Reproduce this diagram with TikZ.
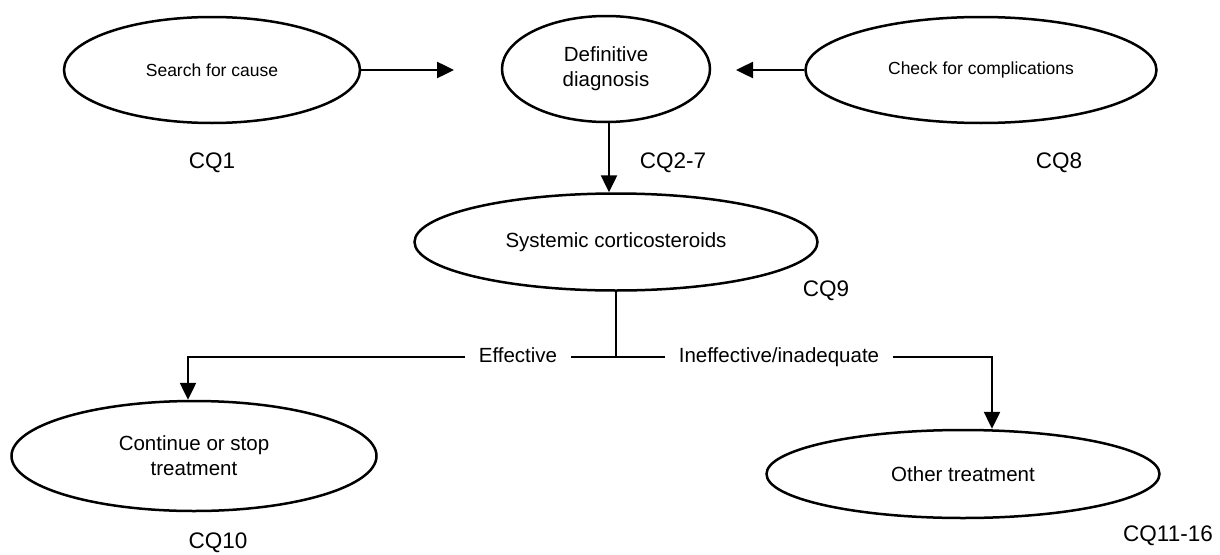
\documentclass[tikz,border=0pt]{standalone}
\usepackage{fontspec}
\setmainfont{Liberation Sans}
\usetikzlibrary{shapes.geometric,arrows.meta}

\begin{document}
\begin{tikzpicture}[x=1pt, y=-1pt]
    % Define styles
    \tikzset{
        stage/.style={
            draw,
            ellipse,
            line width=2.5pt,
            inner sep=0pt,
            align=center,
            font=\fontsize{20.5}{25}\selectfont
        },
        smalltext/.style={
            font=\fontsize{17.5}{21}\selectfont
        },
        cqlabel/.style={
            font=\fontsize{22.5}{26}\selectfont
        },
        flow/.style={
            line width=2.5pt,
            -{Triangle[length=17pt, width=16pt]}
        },
        branch/.style={
            line width=2.5pt
        },
        outcome/.style={
            inner xsep=14pt,
            text height=15pt,
            text depth=4pt,
            font=\fontsize{20.5}{25}\selectfont
        }
    }
    \useasboundingbox (0,0) rectangle (1220,554);

    % Top row
    \node[stage, smalltext, minimum width=296pt, minimum height=106pt] (search) at (212,70) {Search for cause};
    \node[stage, minimum width=208pt, minimum height=106pt] (diag) at (606,69) {Definitive\\diagnosis};
    \node[stage, smalltext, minimum width=351pt, minimum height=106pt] (check) at (981,70) {Check for complications};

    \coordinate (searchend) at (454,70);
    \coordinate (checkend) at (736,70);
    \draw[flow] (search.east) -- (searchend);
    \draw[flow] (check.west) -- (checkend);

    % Treatment
    \node[stage, minimum width=403pt, minimum height=97pt] (steroids) at (616,242) {Systemic corticosteroids};
    \draw[flow] ([xshift=3pt]diag.south) -- ([xshift=3pt]diag.south |- steroids.north);

    % Outcomes
    \coordinate (split) at (616,357);
    \node[outcome] (eff) at (518,357) {Effective};
    \node[outcome] (ineff) at (779,357) {Ineffective/inadequate};

    \node[stage, minimum width=365pt, minimum height=110pt] (contin) at (194,456) {Continue or stop\\treatment};
    \node[stage, minimum width=393pt, minimum height=88pt] (other) at (963,474) {Other treatment};

    \draw[branch] (steroids.south) -- (split);
    \draw[branch] (eff.east) -- (ineff.west);
    \draw[flow] (eff.west) -| ([xshift=-6pt]contin.north);
    \draw[flow] (ineff.east) -| ([xshift=29pt]other.north);

    % Labels
    \node[cqlabel] (cq1) at (212,163) {CQ1};
    \node[cqlabel] (cq2) at (673,163) {CQ2-7};
    \node[cqlabel] (cq8) at (1059,163) {CQ8};
    \node[cqlabel] (cq9) at (826,291) {CQ9};
    \node[cqlabel] (cq10) at (218,543) {CQ10};
    \node[cqlabel] (cq11) at (1168,536) {CQ11-16};

\end{tikzpicture}
\end{document}
